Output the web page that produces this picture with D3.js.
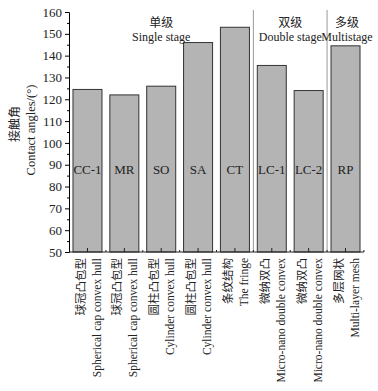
<!DOCTYPE html>
<html>
<head>
<meta charset="utf-8">
<script src="https://cdn.jsdelivr.net/npm/d3@7"></script>
<style>
  body { margin: 0; background: #fff; }
  text { font-family: "Liberation Serif", "Noto Sans CJK SC", serif; fill: #222; }
  .cjk { font-family: "Noto Sans CJK SC", sans-serif; }
</style>
</head>
<body>
<div id="chart"></div>
<script>
// data
const codes = ['CC-1', 'MR', 'SO', 'SA', 'CT', 'LC-1', 'LC-2', 'RP'];
const angles = [124.5, 122, 126, 146, 153, 135.5, 124, 144.5];
const namesCn = ['球冠凸包型', '球冠凸包型', '圆柱凸包型', '圆柱凸包型', '条纹结构', '微纳双凸', '微纳双凸', '多层网状'];
const namesEn = ['Spherical cap convex hull', 'Spherical cap convex hull', 'Cylinder convex hull',
  'Cylinder convex hull', 'The fringe', 'Micro-nano double convex', 'Micro-nano double convex', 'Multi-layer mesh'];
const groups = [
  {cn: '单级', en: 'Single stage', from: 'CC-1', to: 'CT'},
  {cn: '双级', en: 'Double stage', from: 'LC-1', to: 'LC-2'},
  {cn: '多级', en: 'Multistage', from: 'RP', to: 'RP'}
];
const yTicks = [50, 60, 70, 80, 90, 100, 110, 120, 130, 140, 150, 160];

const width = 378, height = 391;
const margin = {top: 12, right: 14, bottom: 139, left: 69};

const svg = d3.select('#chart').append('svg')
  .attr('width', width)
  .attr('height', height);

const x = d3.scaleBand()
  .domain(codes)
  .range([margin.left, 364])
  .paddingInner(0.213)
  .paddingOuter(0.108);

const y = d3.scaleLinear()
  .domain([50, 160])
  .range([height - margin.bottom, margin.top]);

const y0 = y(50);

// group separators
const bounds = [x('LC-1') - x.step() * x.paddingInner() / 2, x('RP') - x.step() * x.paddingInner() / 2];
svg.selectAll('line.sep')
  .data(bounds)
  .enter()
  .append('line')
  .attr('x1', d => d).attr('x2', d => d)
  .attr('y1', y(160) - 2).attr('y2', y0)
  .attr('stroke', '#9a9a9a')
  .attr('stroke-width', 1);

// bars
svg.selectAll('rect.bar')
  .data(codes)
  .enter()
  .append('rect')
  .attr('x', d => x(d))
  .attr('y', (d, i) => y(angles[i]))
  .attr('width', x.bandwidth())
  .attr('height', (d, i) => y0 - y(angles[i]))
  .attr('fill', '#b4b4b4')
  .attr('stroke', '#333')
  .attr('stroke-width', 1);

// codes inside bars
svg.selectAll('text.code')
  .data(codes)
  .enter()
  .append('text')
  .attr('x', d => x(d) + x.bandwidth() / 2)
  .attr('y', 174)
  .attr('text-anchor', 'middle')
  .style('font-size', '13px')
  .text(d => d);

// y axis with minor ticks
const yAxis = svg.append('g')
  .attr('transform', `translate(${margin.left},0)`)
  .call(d3.axisLeft(y).tickValues(yTicks).tickSize(4).tickPadding(3));
yAxis.selectAll('text').style('font-size', '13px').style('font-family', '"Liberation Serif", serif');
svg.append('g')
  .attr('transform', `translate(${margin.left},0)`)
  .call(d3.axisLeft(y).tickValues(d3.range(55, 160, 10)).tickSize(2).tickFormat(''))
  .select('.domain').remove();

// x axis: inward ticks at bar centres, small ticks between bars
const xLine = svg.append('g');
xLine.append('line')
  .attr('x1', margin.left).attr('x2', 364)
  .attr('y1', y0).attr('y2', y0)
  .attr('stroke', '#222');
xLine.selectAll('line.major')
  .data(codes)
  .enter()
  .append('line')
  .attr('x1', d => x(d) + x.bandwidth() / 2).attr('x2', d => x(d) + x.bandwidth() / 2)
  .attr('y1', y0).attr('y2', y0 - 4)
  .attr('stroke', '#222');
xLine.selectAll('line.minor')
  .data(codes)
  .enter()
  .append('line')
  .attr('x1', d => x(d) + x.bandwidth() + x.step() * x.paddingInner() / 2)
  .attr('x2', d => x(d) + x.bandwidth() + x.step() * x.paddingInner() / 2)
  .attr('y1', y0).attr('y2', y0 - 2)
  .attr('stroke', '#222');

// rotated category labels
const labels = svg.selectAll('g.xlab')
  .data(codes)
  .enter()
  .append('g')
  .attr('transform', d => `translate(${x(d) + x.bandwidth() / 2},${y0 + 6}) rotate(-90)`);
labels.append('text')
  .attr('class', 'cjk')
  .attr('y', -7)
  .attr('dy', '0.35em')
  .attr('text-anchor', 'end')
  .style('font-size', '11.5px')
  .text((d, i) => namesCn[i]);
labels.append('text')
  .attr('y', 9)
  .attr('dy', '0.35em')
  .attr('text-anchor', 'end')
  .style('font-size', '11.5px')
  .text((d, i) => namesEn[i]);

// group titles
groups.forEach(g => {
  const cx = (x(g.from) + x(g.to) + x.bandwidth()) / 2 + (g.from === 'RP' ? 1.5 : 0);
  svg.append('text')
    .attr('class', 'cjk')
    .attr('x', cx).attr('y', 27)
    .attr('text-anchor', 'middle')
    .style('font-size', '12px')
    .text(g.cn);
  svg.append('text')
    .attr('x', cx).attr('y', 41)
    .attr('text-anchor', 'middle')
    .style('font-size', '12px')
    .text(g.en);
});

// y axis title
svg.append('text')
  .attr('class', 'cjk')
  .attr('transform', 'translate(15,124) rotate(-90)')
  .attr('dy', '0.35em')
  .attr('text-anchor', 'middle')
  .style('font-size', '12px')
  .text('接触角');
svg.append('text')
  .attr('transform', 'translate(31,130) rotate(-90)')
  .attr('dy', '0.35em')
  .attr('text-anchor', 'middle')
  .style('font-size', '12.5px')
  .text('Contact angles/(°)');
</script>
</body>
</html>
